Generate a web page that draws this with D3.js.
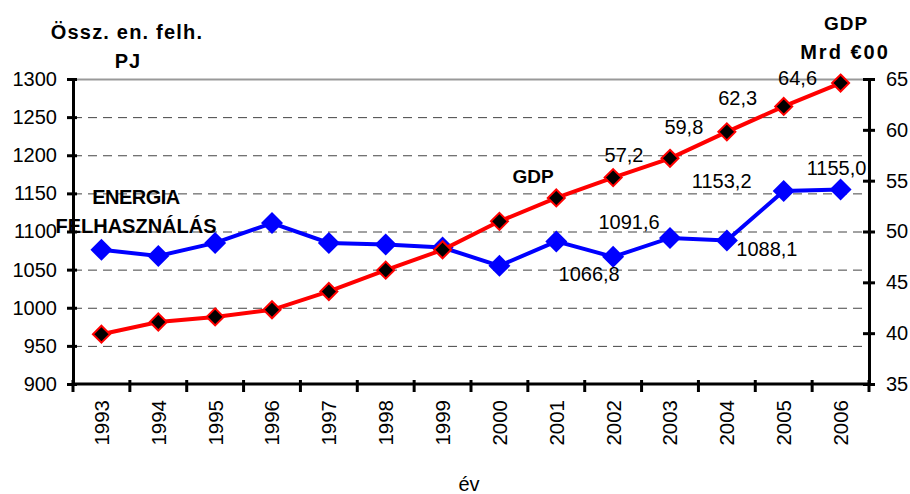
<!DOCTYPE html>
<html>
<head>
<meta charset="utf-8">
<script src="https://cdn.jsdelivr.net/npm/d3@7"></script>
<style>
  body { margin: 0; background: #fff; }
  text { font-family: "Liberation Sans", Arial, sans-serif; fill: #000; }
</style>
</head>
<body>
<div id="chart"></div>
<script>
const years = ['1993','1994','1995','1996','1997','1998','1999','2000','2001','2002','2003','2004','2005','2006'];
const energy = [1076, 1068, 1085, 1111, 1085, 1083, 1079, 1055, 1087, 1066.8, 1091.6, 1088.1, 1153.2, 1155.0];
const gdp = [39.9, 41.1, 41.6, 42.3, 44.1, 46.2, 48.2, 51.0, 53.3, 55.3, 57.2, 59.8, 62.3, 64.6];
const energyTicks = [900, 950, 1000, 1050, 1100, 1150, 1200, 1250, 1300];
const gdpTicks = [35, 40, 45, 50, 55, 60, 65];
const energyLabelled = ['2002','2003','2004','2005','2006'];
const gdpLabelled = ['2003','2004','2005','2006'];

// hand placed label nudges (as in the original sheet)
const energyNudge = {'2002': [-24, 17], '2003': [-41, -16], '2004': [40, 8], '2005': [-62, -10], '2006': [-4, -22]};
const gdpNudge = {'2003': [-46, -3], '2004': [-43, -5], '2005': [-46, -8], '2006': [-43, -5]};

const width = 910, height = 494;
const margin = {top: 79, right: 41, bottom: 110, left: 73};
const fmt = v => v.toFixed(1).replace('.', ',');
const FONT = '"Liberation Sans", Arial, sans-serif';

const svg = d3.select('#chart').append('svg')
  .attr('width', width).attr('height', height);

const x = d3.scaleBand().domain(years).range([margin.left, width - margin.right]);
const yL = d3.scaleLinear().domain([900, 1300]).range([height - margin.bottom, margin.top]);
const yR = d3.scaleLinear().domain([35, 65]).range([height - margin.bottom, margin.top]);
const cx = d => x(d) + x.bandwidth() / 2;

// grid
svg.append('g').selectAll('line')
  .data(energyTicks.filter(d => d > 900))
  .enter().append('line')
    .attr('x1', margin.left).attr('x2', width - margin.right)
    .attr('y1', d => yL(d) + 0.5).attr('y2', d => yL(d) + 0.5)
    .attr('stroke', d => d === 1300 ? '#999' : '#444')
    .attr('stroke-width', d => d === 1300 ? 2 : 1)
    .attr('stroke-dasharray', d => d === 1300 ? null : '9,6');

// left axis
const gl = svg.append('g')
  .attr('transform', `translate(${margin.left},0)`)
  .call(d3.axisLeft(yL).tickValues(energyTicks).tickFormat(d3.format('d')).tickSize(6).tickSizeOuter(0));
gl.select('.domain').attr('stroke-width', 3);
gl.selectAll('.tick line').attr('x1', 4).attr('stroke-width', 3);
gl.selectAll('.tick text').attr('x', -16).style('font-size', '20px').style('font-family', FONT);

// right axis
const gr = svg.append('g')
  .attr('transform', `translate(${width - margin.right},0)`)
  .call(d3.axisRight(yR).tickValues(gdpTicks).tickSize(6).tickSizeOuter(0));
gr.select('.domain').attr('stroke-width', 3);
gr.selectAll('.tick line').attr('x1', -6).attr('stroke-width', 3);
gr.selectAll('.tick text').attr('x', 17).style('font-size', '20px').style('font-family', FONT);

// bottom axis
const gb = svg.append('g')
  .attr('transform', `translate(0,${height - margin.bottom})`)
  .call(d3.axisBottom(x).tickSize(0));
gb.select('.domain').remove();
gb.selectAll('.tick text')
  .attr('transform', 'rotate(-90)')
  .attr('x', -16).attr('y', 0).attr('dy', '0.36em')
  .style('text-anchor', 'end')
  .style('font-size', '20.5px')
  .style('font-family', FONT);
const bounds = years.map(d => x(d)).concat([x(years[years.length - 1]) + x.bandwidth()]);
svg.append('line')
  .attr('x1', margin.left).attr('x2', width - margin.right)
  .attr('y1', yL(900)).attr('y2', yL(900))
  .attr('stroke', '#000').attr('stroke-width', 3);
svg.append('g').selectAll('line').data(bounds).enter().append('line')
  .attr('x1', d => d).attr('x2', d => d)
  .attr('y1', yL(900) - 4).attr('y2', yL(900) + 8)
  .attr('stroke', '#000').attr('stroke-width', 3);

// series
const eData = years.map((y, i) => ({year: y, value: energy[i]}));
const gData = years.map((y, i) => ({year: y, value: gdp[i]}));

const diamond = (s) => `M0,${-s}L${s},0L0,${s}L${-s},0Z`;

svg.append('path').datum(eData)
  .attr('fill', 'none').attr('stroke', '#0000ff').attr('stroke-width', 4)
  .attr('d', d3.line().x(d => cx(d.year)).y(d => yL(d.value)));
svg.append('g').selectAll('path').data(eData).enter().append('path')
  .attr('transform', d => `translate(${cx(d.year)},${yL(d.value)})`)
  .attr('d', diamond(11))
  .attr('fill', '#0000ff');

svg.append('path').datum(gData)
  .attr('fill', 'none').attr('stroke', '#ff0000').attr('stroke-width', 4)
  .attr('d', d3.line().x(d => cx(d.year)).y(d => yR(d.value)));
svg.append('g').selectAll('path').data(gData).enter().append('path')
  .attr('transform', d => `translate(${cx(d.year)},${yR(d.value)})`)
  .attr('d', diamond(8.5))
  .attr('fill', '#000').attr('stroke', '#ff0000').attr('stroke-width', 2);

// data labels
svg.append('g').selectAll('text').data(eData.filter(d => energyLabelled.includes(d.year))).enter()
  .append('text')
    .attr('x', d => cx(d.year) + energyNudge[d.year][0])
    .attr('y', d => yL(d.value) + energyNudge[d.year][1])
    .attr('text-anchor', 'middle').attr('dominant-baseline', 'central')
    .style('font-size', '20px')
    .text(d => fmt(d.value));
svg.append('g').selectAll('text').data(gData.filter(d => gdpLabelled.includes(d.year))).enter()
  .append('text')
    .attr('x', d => cx(d.year) + gdpNudge[d.year][0])
    .attr('y', d => yR(d.value) + gdpNudge[d.year][1])
    .attr('text-anchor', 'middle').attr('dominant-baseline', 'central')
    .style('font-size', '20px')
    .text(d => fmt(d.value));

// titles and notes
const bold = (t, xx, yy, size, ls) => svg.append('text')
  .attr('x', xx).attr('y', yy)
  .attr('text-anchor', 'middle').attr('dominant-baseline', 'central')
  .style('font-size', size + 'px').style('font-weight', 'bold')
  .style('letter-spacing', ls + 'px')
  .text(t);
bold('Össz. en. felh.', 127, 32, 20, 1.2);
bold('PJ', 128, 61, 20, 1);
bold('GDP', 846, 23, 19, 1);
bold('Mrd €00', 845, 52, 20, 2);
bold('ENERGIA', 136, 197, 20, -0.5);
bold('FELHASZNÁLÁS', 136, 226, 20, 0);
bold('GDP', 533, 176, 19, 0);

svg.append('text')
  .attr('x', 469).attr('y', 484)
  .attr('text-anchor', 'middle').attr('dominant-baseline', 'central')
  .style('font-size', '20px')
  .text('év');
</script>
</body>
</html>
